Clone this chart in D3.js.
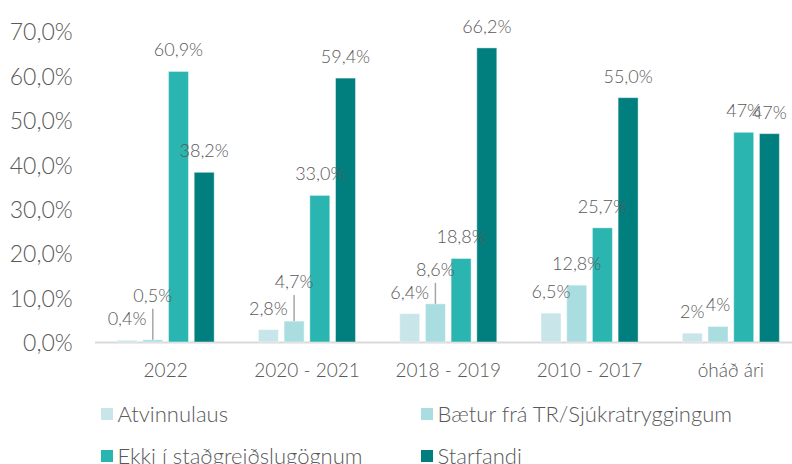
<!DOCTYPE html>
<html>
<head>
<meta charset="utf-8">
<script src="https://cdn.jsdelivr.net/npm/d3@7"></script>
<style>
  html, body { margin: 0; padding: 0; background: #fff; }
  svg text { font-family: "Lato", "Roboto", sans-serif; font-weight: 300; fill: #595959; }
</style>
</head>
<body>
<svg id="chart" width="792" height="464"></svg>
<script>
// --- Data ---
const categories = ["2022", "2020 - 2021", "2018 - 2019", "2010 - 2017", "óháð ári"];
const seriesNames = ["Atvinnulaus", "Bætur frá TR/Sjúkratryggingum", "Ekki í staðgreiðslugögnum", "Starfandi"];
const atvinnulaus = [0.4, 2.8, 6.4, 6.5, 2.0];
const baetur = [0.5, 4.7, 8.6, 12.8, 3.5];
const ekki = [60.9, 33.0, 18.8, 25.7, 47.2];
const starfandi = [38.2, 59.4, 66.2, 55.0, 46.9];
const yTicks = [0, 10, 20, 30, 40, 50, 60, 70];
const labelDecimals = [1, 1, 1, 1, 0];   // óháð ári labels have no decimals
const baeturLabelLift = [23, 18, 13, 0, 0]; // labels pulled up with a leader line

const seriesValues = [atvinnulaus, baetur, ekki, starfandi];
const colors = ["#c8e6ea", "#a9dde0", "#2bb5b0", "#007f7e"];

// --- Scales ---
const svg = d3.select("#chart");

const y = d3.scaleLinear().domain([0, 70]).range([342, 31]);

const x0 = d3.scaleBand()
    .domain(categories)
    .range([95, 801.5])
    .padding(0);

const innerPad = 1 - 20 / 25.7;
const x1 = d3.scaleBand()
    .domain(d3.range(seriesNames.length))
    .range([x0.bandwidth() / 2 - 51.4, x0.bandwidth() / 2 + 51.4])
    .paddingInner(innerPad)
    .paddingOuter(innerPad / 2);

const fmt = (v, dec) => v.toFixed(dec).replace(".", ",") + "%";

// --- Y axis ---
const yAxis = svg.append("g")
    .attr("transform", "translate(95,0)")
    .call(d3.axisLeft(y).tickValues(yTicks).tickSize(0).tickFormat(d => fmt(d, 1)));
yAxis.select(".domain").remove();
yAxis.selectAll("text")
    .attr("x", -22.3)
    .attr("dy", "0.38em")
    .attr("font-family", null)
    .attr("font-size", null)
    .style("font-size", "23px");

// baseline
svg.append("line")
    .attr("x1", 95).attr("x2", 792)
    .attr("y1", y(0) + 0.5).attr("y2", y(0) + 0.5)
    .attr("stroke", "#d9d9d9")
    .attr("stroke-width", 2);

// --- Bars ---
const rows = categories.map((c, ci) => ({
    cat: ci,
    items: seriesValues.map((vals, si) => ({ cat: ci, s: si, v: vals[ci] }))
}));

const groups = svg.append("g")
    .selectAll("g")
    .data(rows)
    .join("g")
    .attr("transform", d => `translate(${x0(categories[d.cat])},0)`);

groups.selectAll("rect")
    .data(d => d.items)
    .join("rect")
    .attr("x", d => x1(d.s))
    .attr("width", x1.bandwidth())
    .attr("y", d => y(d.v))
    .attr("height", d => y(0) - y(d.v))
    .attr("fill", d => colors[d.s])
    .attr("stroke", "#ffffff")
    .attr("stroke-opacity", 0.45)
    .attr("stroke-width", 1);

// --- Data labels ---
const lift = d => (d.s === 1 ? baeturLabelLift[d.cat] : 0);

groups.selectAll("line.leader")
    .data(d => d.items.filter(it => lift(it) > 0))
    .join("line")
    .attr("class", "leader")
    .attr("x1", d => x1(d.s) + x1.bandwidth() / 2)
    .attr("x2", d => x1(d.s) + x1.bandwidth() / 2)
    .attr("y1", d => y(d.v) - 21.5 - lift(d) + 13.5)
    .attr("y2", d => y(d.v))
    .attr("stroke", "#a6a6a6")
    .attr("stroke-width", 1.5);

groups.selectAll("text.lbl")
    .data(d => d.items)
    .join("text")
    .attr("class", "lbl")
    .attr("x", d => x1(d.s) + x1.bandwidth() / 2)
    .attr("y", d => y(d.v) - 21.5 - lift(d))
    .attr("dy", "0.36em")
    .attr("text-anchor", "middle")
    .style("font-size", "18px")
    .text(d => fmt(d.v, labelDecimals[d.cat]));

// --- Category axis ---
const xAxis = svg.append("g")
    .attr("transform", `translate(0,${y(0)})`)
    .call(d3.axisBottom(x0).tickSize(0));
xAxis.select(".domain").remove();
xAxis.selectAll("text")
    .attr("y", 34.7)
    .attr("dy", 0)
    .attr("font-family", null)
    .attr("font-size", null)
    .style("font-size", "19px");

// --- Legend ---
const legend = svg.append("g")
    .selectAll("g")
    .data(seriesNames)
    .join("g")
    .attr("transform", (d, i) => `translate(${101 + (i % 2) * 320},${408 + Math.floor(i / 2) * 42})`);

legend.append("rect")
    .attr("width", 12)
    .attr("height", 12)
    .attr("fill", (d, i) => colors[i]);

legend.append("text")
    .attr("x", 16.5)
    .attr("y", 13.7)
    .style("font-size", "22px")
    .text(d => d);
</script>
</body>
</html>
